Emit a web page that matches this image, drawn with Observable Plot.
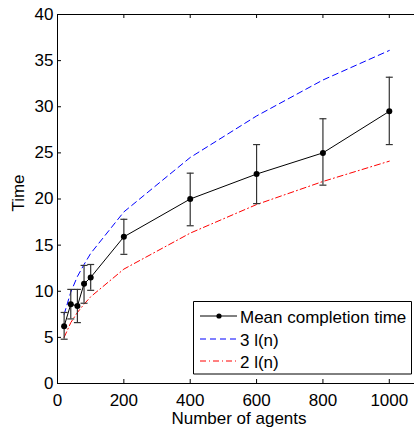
<!DOCTYPE html>
<html>
<head>
<meta charset="utf-8">
<script src="https://cdn.jsdelivr.net/npm/d3@7"></script>
<script src="https://cdn.jsdelivr.net/npm/@observablehq/plot@0.6"></script>
<style>
  html, body { margin: 0; padding: 0; background: #fff; }
  #chart { width: 414px; height: 428px; overflow: hidden; }
</style>
</head>
<body>
<div id="chart"></div>
<script>
// ---- data ----
const agents   = [20, 40, 60, 80, 100, 200, 400, 600, 800, 1000];
const meanTime = [6.2, 8.6, 8.4, 10.8, 11.5, 15.9, 20.0, 22.7, 25.0, 29.5];
const errLow   = [4.8, 7.0, 6.6, 8.7, 10.1, 14.0, 17.1, 19.5, 21.5, 25.9];
const errHigh  = [7.7, 10.2, 10.2, 12.8, 12.9, 17.8, 22.8, 25.9, 28.7, 33.2];
const bound3   = [7.5, 9.9, 11.6, 12.9, 14.1, 18.6, 24.5, 29.0, 32.9, 36.1];
const bound2   = [5.0, 6.6, 7.7, 8.6, 9.4, 12.4, 16.3, 19.4, 21.9, 24.1];
const xTicks   = [0, 200, 400, 600, 800, 1000];
const yTicks   = [0, 5, 10, 15, 20, 25, 30, 35, 40];
const seriesNames = ["Mean completion time", "3 l(n)", "2 l(n)"];
const xLabel = "Number of agents";
const yLabel = "Time";

const rows = agents.map((n, i) => ({
  n, mean: meanTime[i], lo: errLow[i], hi: errHigh[i], b3: bound3[i], b2: bound2[i]
}));

const FONT = "Liberation Sans, Arial, Helvetica, sans-serif";
const W = 414, H = 428;
const mL = 57, mT = 14, mB = 45, mR = 0;
const plotW = W - mL - mR, plotH = H - mT - mB;

const capSymbol = { draw(ctx) { ctx.moveTo(-3.5, 0); ctx.lineTo(3.5, 0); } };

const chart = Plot.plot({
  width: W, height: H,
  marginLeft: mL, marginRight: mR, marginTop: mT, marginBottom: mB,
  style: { fontFamily: FONT, fontSize: "17px", color: "#000", background: "#fff" },
  x: { domain: [0, 1076], axis: null },
  y: { domain: [0, 40], axis: null },
  marks: [
    // frame (top, left, bottom)
    Plot.ruleY([0, 40], { stroke: "#000", strokeWidth: 1 }),
    Plot.ruleX([0], { stroke: "#000", strokeWidth: 1 }),
    // inward ticks
    Plot.ruleX(xTicks, { stroke: "#000", insetTop: plotH - 4 }),
    Plot.ruleX(xTicks, { stroke: "#000", insetBottom: plotH - 4 }),
    Plot.ruleY(yTicks, { stroke: "#000", insetRight: plotW - 4 }),
    // tick labels
    Plot.axisX({ ticks: xTicks, tickSize: 0, tickPadding: 10, label: null, anchor: "bottom", fontSize: 17, tickFormat: d => String(d) }),
    Plot.axisY({ ticks: yTicks, tickSize: 0, tickPadding: 4, label: null, anchor: "left", fontSize: 17, tickFormat: d => String(d) }),
    // bounds
    Plot.line(rows, { x: "n", y: "b3", stroke: "#0000ff", strokeWidth: 1, strokeDasharray: "6,4" }),
    Plot.line(rows, { x: "n", y: "b2", stroke: "#ff0000", strokeWidth: 1, strokeDasharray: "6,3,1,3" }),
    // error bars
    Plot.ruleX(rows, { x: "n", y1: "lo", y2: "hi", stroke: "#333", strokeWidth: 1.2 }),
    Plot.dot(rows, { x: "n", y: "lo", symbol: capSymbol, stroke: "#333", fill: "none", strokeWidth: 1.2 }),
    Plot.dot(rows, { x: "n", y: "hi", symbol: capSymbol, stroke: "#333", fill: "none", strokeWidth: 1.2 }),
    // mean
    Plot.line(rows, { x: "n", y: "mean", stroke: "#000", strokeWidth: 1 }),
    Plot.dot(rows, { x: "n", y: "mean", r: 3, fill: "#000", stroke: "none" })
  ]
});

const svg = d3.select(chart);

// axis titles
svg.append("text")
  .attr("x", 239).attr("y", 424)
  .attr("text-anchor", "middle")
  .style("font-family", FONT).style("font-size", "17px").style("fill", "#000")
  .text(xLabel);
svg.append("text")
  .attr("transform", "translate(24,193) rotate(-90)")
  .attr("text-anchor", "middle")
  .style("font-family", FONT).style("font-size", "17px").style("fill", "#000")
  .text(yLabel);

// legend
const lg = svg.append("g").attr("text-anchor", "start");
const bx = 193.5, by = 301.5, bw = 218, bh = 72.5;
lg.append("rect")
  .attr("x", bx).attr("y", by).attr("width", bw).attr("height", bh)
  .style("fill", "#fff").style("stroke", "none");
lg.append("path")
  .attr("d", `M${bx},${by}H${bx + bw}V${by + bh}H${bx}Z`)
  .style("fill", "none").style("stroke", "#000").style("stroke-width", "1px");
const entries = [
  { name: seriesNames[0], color: "#000", dash: null, dot: true, y: 316 },
  { name: seriesNames[1], color: "#0000ff", dash: "6,4", dot: false, y: 339 },
  { name: seriesNames[2], color: "#ff0000", dash: "6,3,1,3", dot: false, y: 361 }
];
entries.forEach(e => {
  const ln = lg.append("line")
    .attr("x1", 200).attr("x2", 237).attr("y1", e.y).attr("y2", e.y)
    .style("stroke", e.color).style("stroke-width", "1px");
  if (e.dash) ln.style("stroke-dasharray", e.dash);
  if (e.dot) lg.append("circle").attr("cx", 219).attr("cy", e.y).attr("r", 2.6).style("fill", "#000");
  lg.append("text")
    .attr("x", 240).attr("y", e.y + 6.5)
    .attr("text-anchor", "start")
    .style("font-family", FONT).style("font-size", "17px").style("fill", "#000")
    .text(e.name);
});

document.getElementById("chart").appendChild(chart);
</script>
</body>
</html>
